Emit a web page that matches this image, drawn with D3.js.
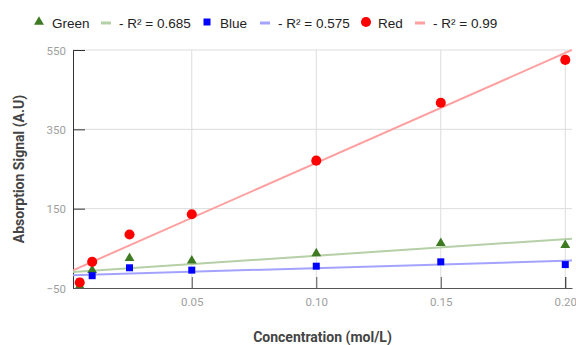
<html>
<head>
<meta charset="utf-8">
<script src="https://cdn.jsdelivr.net/npm/d3@7"></script>
</head>
<body style="margin:0">
<style>
  text { font-family: Roboto, Arial, sans-serif; }
  .tick text { fill: #9e9e9e; font-size: 11.5px; }
</style>
<svg width="576" height="345" id="chart"></svg>
<script>
// data
var conc = [0.005, 0.01, 0.025, 0.05, 0.10, 0.15, 0.20];
var green = [-45, -5, 25, 19, 37, 63, 58];
var blue = [-35, -19, 1, -5, 5, 16, 9];
var red = [-36, 16, 85, 136, 271, 417, 525];
var yTicks = [-50, 150, 350, 550];
var xTicks = [0.05, 0.10, 0.15, 0.20];
var r2 = ["0.685", "0.575", "0.99"];

var svg = d3.select("#chart");
var pLeft = 73, pRight = 572, pTop = 50, pBottom = 288;

var x = d3.scaleLinear().domain([0.0023, 0.2027]).range([pLeft, pRight]);
var y = d3.scaleLinear().domain([-50, 550]).range([pBottom, pTop]);

svg.append("clipPath").attr("id", "plot")
  .append("rect").attr("x", pLeft).attr("y", pTop - 6)
  .attr("width", pRight - pLeft).attr("height", pBottom - pTop + 6);

// grid
svg.append("g").selectAll("line").data(yTicks.slice(1)).enter().append("line")
  .attr("x1", pLeft).attr("x2", pRight)
  .attr("y1", function(d) { return y(d); }).attr("y2", function(d) { return y(d); })
  .style("stroke", "#dcdcdc");
svg.append("g").selectAll("line").data(xTicks).enter().append("line")
  .attr("y1", pTop).attr("y2", pBottom)
  .attr("x1", function(d) { return x(d); }).attr("x2", function(d) { return x(d); })
  .style("stroke", "#dcdcdc");

// axes, ticks drawn inward
var yAxis = svg.append("g").attr("transform", "translate(" + pLeft + ",0)")
  .call(d3.axisLeft(y).tickValues(yTicks).tickSize(-12).tickSizeOuter(0).tickPadding(7).tickFormat(d3.format("d")));
var xAxis = svg.append("g").attr("transform", "translate(0," + pBottom + ")")
  .call(d3.axisBottom(x).tickValues(xTicks).tickSize(-11).tickSizeOuter(0).tickPadding(8).tickFormat(d3.format(".2f")));
yAxis.select(".domain").style("stroke", "#333");
xAxis.select(".domain").style("stroke", "#555");
yAxis.selectAll(".tick line").style("stroke", "#333");
xAxis.selectAll(".tick line").style("stroke", "#555");
yAxis.selectAll(".tick text").attr("dy", "0.35em");
xAxis.selectAll(".tick text").attr("dy", "0.9em");
xAxis.selectAll(".tick line").filter(function(d) { return d === 0.20; }).style("stroke", "#111");

// least squares trend
function fit(ys) {
  var mx = d3.mean(conc), my = d3.mean(ys), sxy = 0, sxx = 0;
  conc.forEach(function(c, i) { sxy += (c - mx) * (ys[i] - my); sxx += (c - mx) * (c - mx); });
  var m = sxy / sxx;
  return [m, my - m * mx];
}

var series = [
  { name: "Green", vals: green, color: "#3d7a22", trend: "#b5d0a6", shape: d3.symbolTriangle, size: 42 },
  { name: "Blue", vals: blue, color: "#0000ff", trend: "#a3a3ff", shape: d3.symbolSquare, size: 49 },
  { name: "Red", vals: red, color: "#ff0000", trend: "#ffa0a0", shape: d3.symbolCircle, size: 80 }
];

var plot = svg.append("g").attr("clip-path", "url(#plot)");
series.forEach(function(s) {
  var f = fit(s.vals);
  var dom = x.domain();
  plot.append("line")
    .attr("x1", x(dom[0])).attr("y1", y(f[0] * dom[0] + f[1]))
    .attr("x2", x(dom[1])).attr("y2", y(f[0] * dom[1] + f[1]))
    .style("stroke", s.trend).style("stroke-width", 2);
});
series.forEach(function(s) {
  plot.append("g").selectAll("path").data(s.vals).enter().append("path")
    .attr("d", d3.symbol().type(s.shape).size(s.size))
    .attr("transform", function(d, i) { return "translate(" + x(conc[i]) + "," + y(d) + ")"; })
    .style("fill", s.color);
});

// titles
svg.append("text").attr("transform", "translate(24," + (pTop + pBottom) / 2 + ") rotate(-90)")
  .attr("text-anchor", "middle").style("font-size", "14px").style("font-weight", "bold")
  .style("fill", "#444").text("Absorption Signal (A.U)");
svg.append("text").attr("x", (pLeft + pRight) / 2).attr("y", 342)
  .attr("text-anchor", "middle").style("font-size", "14px").style("font-weight", "bold")
  .style("fill", "#444").text("Concentration (mol/L)");

// legend
var legX = [[39, 52, 101, 119], [207, 220, 260, 278], [366, 378, 415, 433]];
var leg = svg.append("g");
series.forEach(function(s, i) {
  var p = legX[i];
  leg.append("path").attr("d", d3.symbol().type(s.shape).size(s.size))
    .attr("transform", "translate(" + p[0] + ",22)").style("fill", s.color);
  leg.append("text").attr("x", p[1]).attr("y", 27.5).style("font-size", "13.5px")
    .style("font-family", "Arial, 'Liberation Sans', sans-serif")
    .style("fill", "#222").text(s.name);
  leg.append("line").attr("x1", p[2]).attr("x2", p[2] + 10).attr("y1", 23).attr("y2", 23)
    .style("stroke", s.trend).style("stroke-width", 3);
  leg.append("text").attr("x", p[3]).attr("y", 27.5).style("font-size", "13.5px")
    .style("font-family", "Arial, 'Liberation Sans', sans-serif")
    .style("fill", "#222").text("- R\u00b2 = " + r2[i]);
});
</script>
</body>
</html>
